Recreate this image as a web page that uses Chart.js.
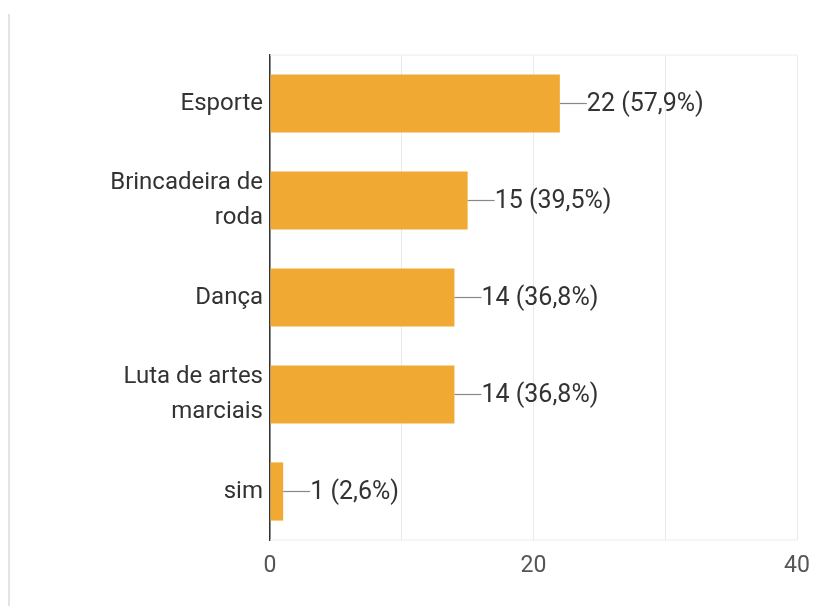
<!DOCTYPE html>
<html>
<head>
    <title>Atividades</title>
    <script src="https://cdn.jsdelivr.net/npm/chart.js"></script>
    <style>
        body { margin: 0; background: #fff; }
        #wrap { position: relative; width: 814px; height: 606px; }
        #edge { position: absolute; left: 8px; top: 14px; width: 2px; height: 592px; background: #e4e4e4; }
    </style>
</head>
<body>
    <div id="wrap">
        <div id="edge"></div>
        <canvas id="myChart" width="814" height="606"></canvas>
    </div>

    <script>
        var categories = ['Esporte', ['Brincadeira de', 'roda'], 'Dança', ['Luta de artes', 'marciais'], 'sim'];
        var counts = [22, 15, 14, 14, 1];
        var percents = ['57,9%', '39,5%', '36,8%', '36,8%', '2,6%'];
        var gridValues = [0, 10, 20, 30, 40];
        var xTicks = [0, 20, 40];

        // leader line + "n (p%)" text at the end of each bar
        var valueLabels = {
            id: 'valueLabels',
            afterDatasetsDraw: function(chart) {
                var ctx = chart.ctx;
                var meta = chart.getDatasetMeta(0);
                ctx.save();
                ctx.font = '25px Roboto';
                ctx.textBaseline = 'middle';
                ctx.fillStyle = '#333';
                meta.data.forEach(function(bar, i) {
                    var x = bar.x, y = bar.y;
                    ctx.strokeStyle = '#888';
                    ctx.lineWidth = 1.2;
                    ctx.beginPath();
                    ctx.moveTo(x, y);
                    ctx.lineTo(x + 27, y);
                    ctx.stroke();
                    ctx.fillText(counts[i] + ' (' + percents[i] + ')', x + 27, y + 1);
                });
                ctx.restore();
            }
        };

        // faint frame along the top and bottom of the plot area
        var frame = {
            id: 'frame',
            beforeDatasetsDraw: function(chart) {
                var a = chart.chartArea, ctx = chart.ctx;
                ctx.save();
                ctx.strokeStyle = '#ececec';
                ctx.lineWidth = 1;
                ctx.beginPath();
                ctx.moveTo(a.left, a.top); ctx.lineTo(a.right, a.top);
                ctx.moveTo(a.left, a.bottom); ctx.lineTo(a.right, a.bottom);
                ctx.stroke();
                ctx.restore();
            }
        };

        var ctx = document.getElementById('myChart').getContext('2d');
        var myChart = new Chart(ctx, {
            type: 'bar',
            data: {
                labels: categories,
                datasets: [{
                    data: counts,
                    backgroundColor: 'rgb(240, 170, 52)',
                    barPercentage: 0.6,
                    categoryPercentage: 1
                }]
            },
            options: {
                indexAxis: 'y',
                responsive: false,
                animation: false,
                layout: { padding: { top: 55, right: 17, left: 0, bottom: 0 } },
                plugins: { legend: { display: false }, tooltip: { enabled: false } },
                scales: {
                    x: {
                        min: 0,
                        max: 40,
                        afterBuildTicks: function(axis) {
                            axis.ticks = gridValues.map(function(v) { return { value: v }; });
                        },
                        afterFit: function(axis) {
                            axis.height = 66;
                            axis.paddingLeft = 0;
                            axis.paddingRight = 0;
                        },
                        grid: {
                            color: '#e9e9e9',
                            drawTicks: false
                        },
                        border: { display: false },
                        ticks: {
                            color: '#555',
                            font: { family: 'Roboto', size: 23 },
                            padding: 12,
                            maxRotation: 0,
                            autoSkip: false,
                            callback: function(value) {
                                return xTicks.indexOf(value) >= 0 ? String(value) : '';
                            }
                        }
                    },
                    y: {
                        afterFit: function(axis) { axis.width = 270; },
                        grid: { display: false, drawTicks: false },
                        border: { color: '#333', width: 1.5 },
                        ticks: {
                            color: '#333',
                            font: { family: 'Roboto', size: 24, lineHeight: 1.42 },
                            padding: 7
                        }
                    }
                }
            },
            plugins: [frame, valueLabels]
        });
    </script>
</body>
</html>
